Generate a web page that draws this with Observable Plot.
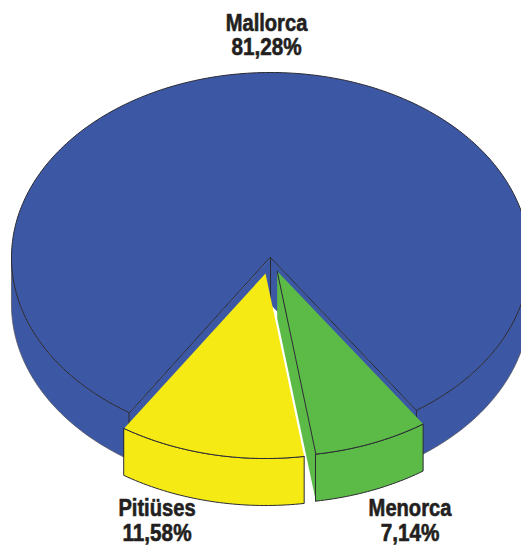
<!DOCTYPE html>
<html>
<head>
<meta charset="utf-8">
<script src="https://cdn.jsdelivr.net/npm/d3@7"></script>
<script src="https://cdn.jsdelivr.net/npm/@observablehq/plot@0.6"></script>
<style>
html,body{margin:0;padding:0;background:#fff;overflow:hidden}
svg{display:block}
</style>
</head>
<body>
<div id="chart"></div>
<script>
const names = ["Pitiüses", "Menorca", "Mallorca"];
const shares = [11.58, 7.14, 81.28];
const shareLabels = ["11,58%", "7,14%", "81,28%"];
const colors = ["#f5ea14", "#5cbb46", "#3c58a5"];
const ink = "#2a2a33";

// pie geometry, in units of the pie radius
const startAngle = -33.1;
const depth = 47 / 185;
const offsetX = [-5 / 259, 6.7 / 259, 0];
const offsetY = [16 / 185, 13.7 / 185, 0];
const labelX = [156.5, 409.5, 266];
const labelY = [[508, 533], [508, 533], [23, 47]];

let acc = startAngle;
const slices = names.map((name, i) => {
  const a0 = acc;
  acc += shares[i] * 3.6;
  return {name, a0, a1: acc, ox: offsetX[i], oy: offsetY[i], color: colors[i]};
});

const rad = d => d * Math.PI / 180;
const rim = (s, a, drop = 0) => ({x: s.ox + Math.sin(rad(a)), y: s.oy + Math.cos(rad(a)) + drop});
const apex = (s, drop = 0) => ({x: s.ox, y: s.oy + drop});
const arc = (s, a0, a1, drop = 0) => {
  const n = Math.max(2, Math.ceil(Math.abs(a1 - a0)));
  return d3.range(n + 1).map(k => rim(s, a0 + (a1 - a0) * k / n, drop));
};
const poly = (pts, fill, stroke = ink, sw = 1) =>
  Plot.line(pts, {x: "x", y: "y", curve: "linear-closed", fill, stroke, strokeWidth: sw});
const seg = (pts) =>
  Plot.line(pts, {x: "x", y: "y", stroke: ink, strokeWidth: 1});
const side = (s, a0, a1) => [...arc(s, a0, a1), ...arc(s, a1, a0, depth)];

const [yellow, green, blue] = slices;
const wallA = blue.a0, wallB = blue.a1;

const marks = [
  // blue outer side
  poly(side(blue, wallA, 90), blue.color, "#55565f", 0.8),
  poly(side(blue, 270, wallB), blue.color, "#55565f", 0.8),
  // blue inner walls
  poly([apex(blue), rim(blue, wallA), rim(blue, wallA, depth), apex(blue, depth)], blue.color, "none"),
  poly([apex(blue), rim(blue, wallB), rim(blue, wallB, depth), apex(blue, depth)], blue.color, "none"),
  seg([apex(blue), apex(blue, depth)]),
  seg([rim(blue, wallA), rim(blue, wallA, depth)]),
  seg([rim(blue, wallB), rim(blue, wallB, depth)]),
  // blue top
  poly([apex(blue), ...arc(blue, wallA, wallB)], blue.color),
  // yellow
  poly(side(yellow, yellow.a0, yellow.a1), yellow.color),
  poly([apex(yellow), ...arc(yellow, yellow.a0, yellow.a1)], yellow.color, "none"),
  seg(arc(yellow, yellow.a0, yellow.a1)),
  // green
  poly([apex(green), apex(green, depth), rim(green, green.a0, depth), rim(green, green.a0)], green.color, "none"),
  seg([rim(green, green.a0), rim(green, green.a0, depth)]),
  poly(side(green, green.a0, green.a1), green.color),
  poly([apex(green), ...arc(green, green.a0, green.a1)], green.color, "none"),
  seg([apex(green), rim(green, green.a0)]),
  seg(arc(green, green.a0, green.a1))
];

// labels
const textStyle = {
  frameAnchor: "top-left", textAnchor: "middle", lineAnchor: "middle",
  fontFamily: "'Liberation Sans','Arial',sans-serif",
  fontWeight: 700, fontSize: 23, fill: "#231f20", stroke: "#231f20", strokeWidth: 0.6
};
names.forEach((name, i) => {
  marks.push(Plot.text([name], {...textStyle, className: "name-label", text: d => d, dx: labelX[i], dy: labelY[i][0]}));
  marks.push(Plot.text([shareLabels[i]], {...textStyle, className: "share-label", text: d => d, dx: labelX[i], dy: labelY[i][1]}));
});

const chart = Plot.plot({
  width: 521,
  height: 545,
  margin: 0,
  x: {domain: [-1, 1], range: [11, 529], axis: null},
  y: {domain: [-1, 1], range: [72, 442], axis: null},
  marks
});
document.getElementById("chart").appendChild(chart);

// the labels are set in a condensed face: squeeze the installed bold to that width
const squeeze = (selector, k) => chart.querySelectorAll(selector).forEach(t => {
  t.setAttribute("textLength", (t.getComputedTextLength() * k).toFixed(1));
  t.setAttribute("lengthAdjust", "spacingAndGlyphs");
});
squeeze(".name-label text", 0.875);
squeeze(".share-label text", 0.9);
</script>
</body>
</html>
